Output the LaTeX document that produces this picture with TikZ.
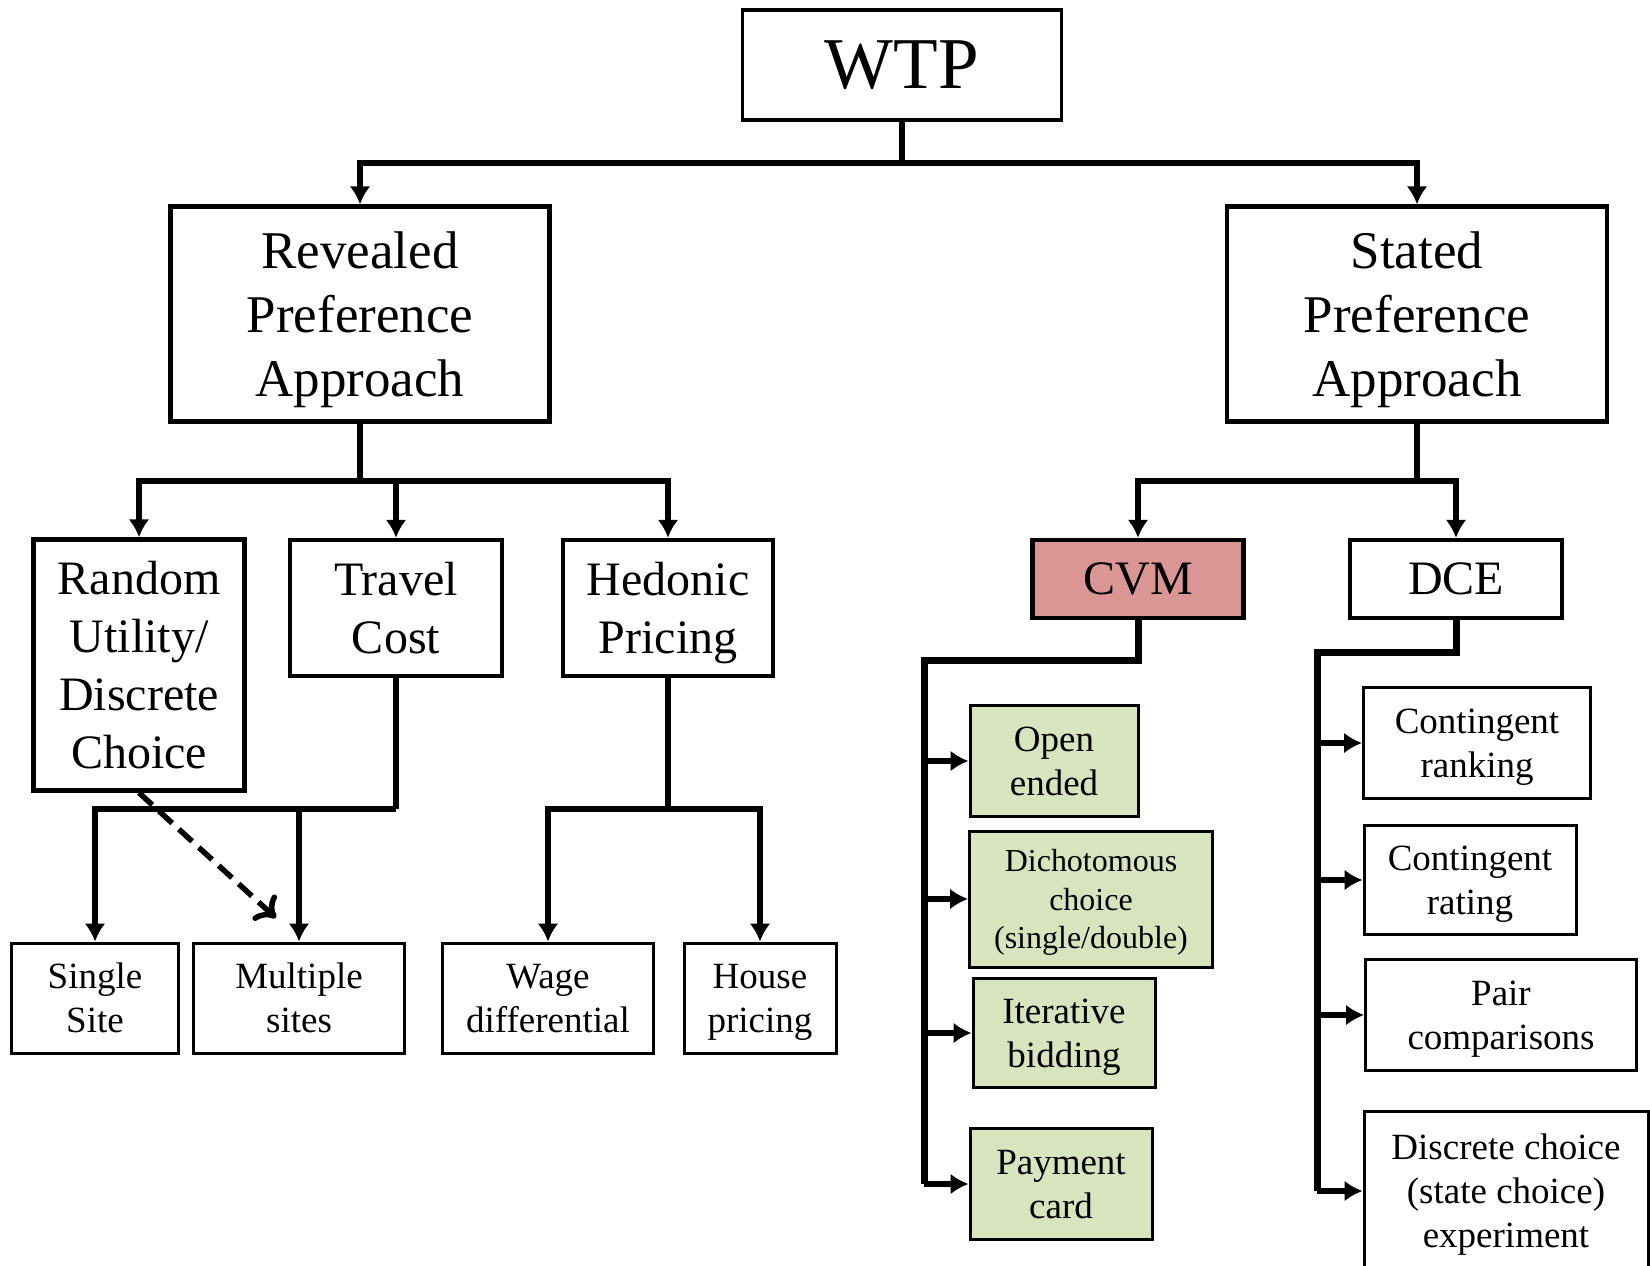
\documentclass[tikz,border=0pt]{standalone}
\usepackage{fontspec}
\setmainfont{Liberation Serif}
\usetikzlibrary{arrows.meta}
\definecolor{cvmred}{HTML}{D99694}
\definecolor{methgreen}{HTML}{D7E4BD}
\tikzset{>={Latex[length=18pt, width=21pt]}}
\tikzset{box/.style={draw, inner sep=0pt, align=center, text depth=0pt},
    bigbox/.style={box, line width=4.5pt, font=\fontsize{48}{58}\selectfont},
    smallbox/.style={box, line width=3pt, font=\fontsize{37}{44}\selectfont},
    link/.style={line width=5.5pt},
    spine/.style={line width=7pt}}

\begin{document}
\begin{tikzpicture}[x=1pt, y=-1pt]
    \useasboundingbox(0, 0)rectangle(1650, 1266);
    \clip(0, 0)rectangle(1650, 1266);
    \node[box, line width=3.5pt, minimum width=319, minimum height=110, font=\fontsize{73}{80}\selectfont](wtp)at(902, 65){WTP};
    \node[bigbox, minimum width=379, minimum height=215, font=\fontsize{53}{64}\selectfont](rev)at(360, 314){Revealed\\Preference\\Approach};
    \node[bigbox, minimum width=380, minimum height=215, font=\fontsize{53}{64}\selectfont](sta)at(1417, 314){Stated\\Preference\\Approach};
    \node[bigbox, minimum width=211, minimum height=251](rud)at(139, 665){Random\\Utility/\\Discrete\\Choice};
    \node[bigbox, minimum width=212, minimum height=136](tc)at(396, 608){Travel\\Cost};
    \node[bigbox, minimum width=210, minimum height=136](hp)at(668, 608){Hedonic\\Pricing};
    \node[bigbox, fill=cvmred, minimum width=211, minimum height=78](cvm)at(1138, 579){CVM};
    \node[bigbox, minimum width=212, minimum height=78](dce)at(1456, 579){DCE};
    \node[smallbox, minimum width=167, minimum height=110](single)at(95, 998){Single\\Site};
    \node[smallbox, minimum width=211, minimum height=110](multi)at(299, 998){Multiple\\sites};
    \node[smallbox, minimum width=211, minimum height=110](wage)at(548, 998){Wage\\differential};
    \node[smallbox, minimum width=152, minimum height=110](house)at(760, 998){House\\pricing};
    \node[smallbox, fill=methgreen, minimum width=168, minimum height=111](open)at(1054, 761){Open\\ended};
    \node[smallbox, fill=methgreen, minimum width=243, minimum height=136, font=\fontsize{32}{38.5}\selectfont](dich)at(1091, 899){Dichotomous\\choice\\(single/double)};
    \node[smallbox, fill=methgreen, minimum width=182, minimum height=109](iter)at(1064, 1033){Iterative\\bidding};
    \node[smallbox, fill=methgreen, minimum width=182, minimum height=111](pay)at(1061, 1184){Payment\\card};
    \node[smallbox, minimum width=227, minimum height=111](rank)at(1477, 743){Contingent\\ranking};
    \node[smallbox, minimum width=212, minimum height=109](rate)at(1470, 880){Contingent\\rating};
    \node[smallbox, minimum width=271, minimum height=111](pair)at(1501, 1015){Pair\\comparisons};
    \node[smallbox, minimum width=284, minimum height=160](disc)at(1506, 1191){Discrete choice\\(state choice)\\experiment};
    \coordinate(wj)at(902, 163);
    \coordinate(rj)at(360, 481);
    \coordinate(sj)at(1417, 481);
    \coordinate(tj)at(396, 809);
    \coordinate(hj)at(668, 809);
    \coordinate(cs)at(924, 660);
    \coordinate(ds)at(1317, 652);
    \coordinate(dh)at(276, 918);
    \draw[link](wtp)--(wj);
    \draw[link, ->](wj)-|(rev);
    \draw[link, ->](wj)-|(sta);
    \draw[link](rev)--(rj);
    \foreach \n in {rud, tc, hp}\draw[link, ->](rj)-|(\n);
    \draw[link](tc)--(tj);
    \foreach \n in {single, multi}\draw[link, ->](tj)-|(\n);
    \draw[link](hp)--(hj);
    \foreach \n in {wage, house}\draw[link, ->](hj)-|(\n);
    \draw[link, dash pattern=on 18pt off 9pt, -{To[length=18pt, width=34pt]}](rud.south)--(dh);
    \draw[link](sta)--(sj);
    \foreach \n in {cvm, dce}\draw[link, ->](sj)-|(\n);
    \draw[spine, line join=miter](cvm)|-(cs)--(pay -| cs);
    \foreach \n in {open, dich, iter, pay}\draw[link, ->](\n -| cs)--(\n);
    \draw[spine, line join=miter](dce)|-(ds)--(disc -| ds);
    \foreach \n in {rank, rate, pair, disc}\draw[link, ->](\n -| ds)--(\n);
\end{tikzpicture}
\end{document}
